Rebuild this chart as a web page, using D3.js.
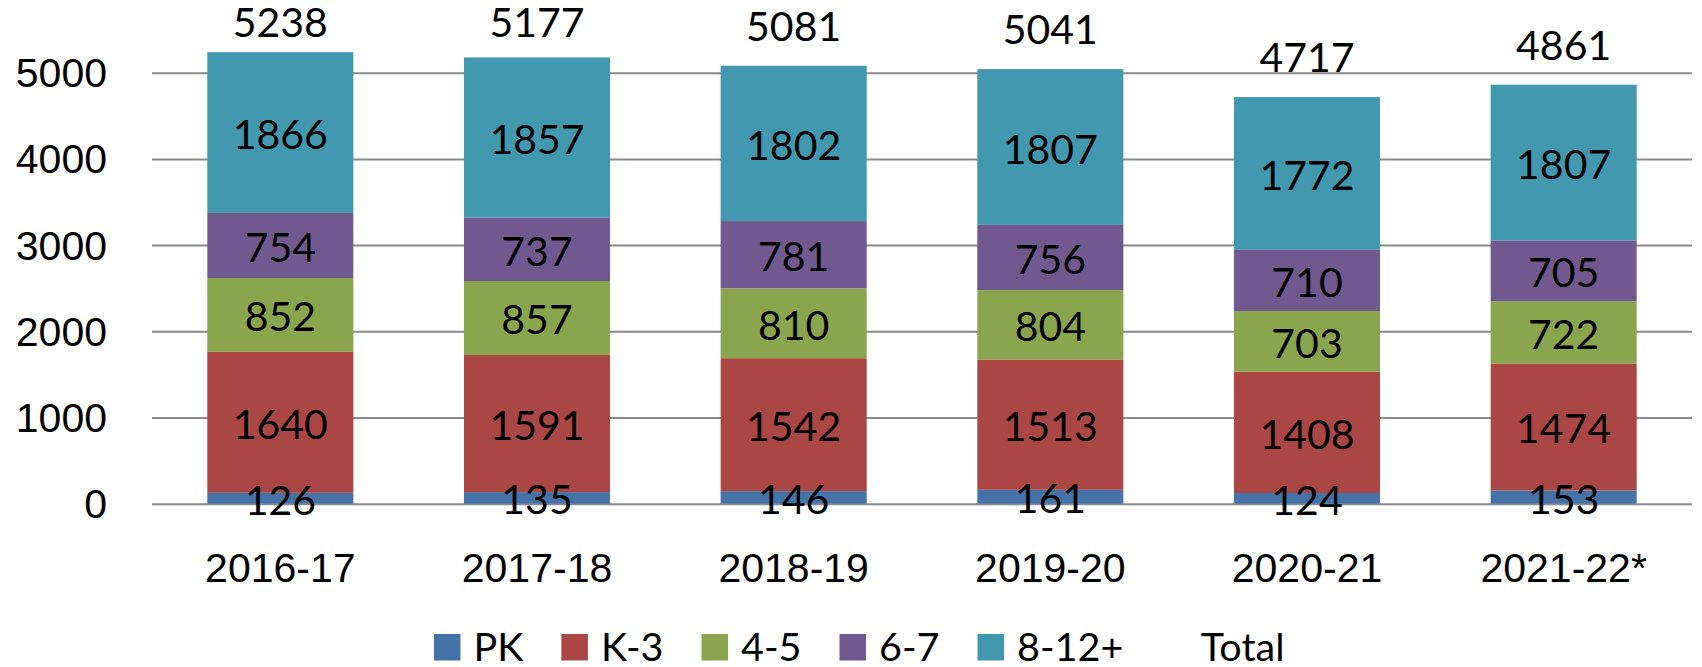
<!DOCTYPE html>
<html>
<head>
<meta charset="utf-8">
<script src="https://cdn.jsdelivr.net/npm/d3@7"></script>
<style>
  html, body { margin: 0; padding: 0; background: #fff; }
  svg { display: block; font-family: Lato, 'Open Sans', sans-serif; }
</style>
</head>
<body>
<div id="chart"></div>
<script>
// school years on the x axis
const years = ['2016-17', '2017-18', '2018-19', '2019-20', '2020-21', '2021-22*'];

// enrolment by grade band
const pk = [126, 135, 146, 161, 124, 153];
const k3 = [1640, 1591, 1542, 1513, 1408, 1474];
const g45 = [852, 857, 810, 804, 703, 722];
const g67 = [754, 737, 781, 756, 710, 705];
const g812 = [1866, 1857, 1802, 1807, 1772, 1807];
const totals = [5238, 5177, 5081, 5041, 4717, 4861];

const seriesNames = ['PK', 'K-3', '4-5', '6-7', '8-12+'];
const seriesColors = ['#4572A7', '#AA4643', '#89A54E', '#71588F', '#4198AF'];
const yTicks = [0, 1000, 2000, 3000, 4000, 5000];

const width = 1702, height = 667;
const plot = { left: 152, right: 1692, top: 72.7, bottom: 503.7 };

const rows = years.map((year, i) => ({
  year: year,
  'PK': pk[i], 'K-3': k3[i], '4-5': g45[i], '6-7': g67[i], '8-12+': g812[i],
  total: totals[i]
}));

const stacked = d3.stack().keys(seriesNames)(rows);

const svg = d3.select('#chart').append('svg')
  .attr('width', width)
  .attr('height', height);

const x = d3.scaleBand()
  .domain(years)
  .range([plot.left, plot.right])
  .paddingInner(0.431)
  .paddingOuter(0.2155);

const y = d3.scaleLinear()
  .domain([0, 5000])
  .range([plot.bottom, plot.top]);

const color = d3.scaleOrdinal().domain(seriesNames).range(seriesColors);

// gridlines + y labels
const yAxis = svg.append('g')
  .attr('transform', `translate(${plot.left},0)`)
  .call(d3.axisLeft(y).tickValues(yTicks).tickSize(-(plot.right - plot.left)).tickPadding(45).tickFormat(d3.format('d')));
yAxis.select('.domain').remove();
yAxis.selectAll('.tick line').attr('stroke', '#8a8a8a').attr('stroke-width', 2);
yAxis.selectAll('.tick text')
  .attr('fill', '#000')
  .style('font-size', '41px')
  .attr('dy', '0.34em');

// stacked bars
const layer = svg.append('g').selectAll('g')
  .data(stacked)
  .enter()
  .append('g')
  .attr('fill', d => color(d.key));

layer.selectAll('rect')
  .data(d => d)
  .enter()
  .append('rect')
  .attr('x', d => x(d.data.year))
  .attr('width', x.bandwidth())
  .attr('y', d => y(d[1]))
  .attr('height', d => y(d[0]) - y(d[1]));

// segment values
const labels = svg.append('g')
  .attr('text-anchor', 'middle')
  .style('font-size', '41px')
  .attr('fill', '#000');

stacked.forEach(s => {
  labels.selectAll(null)
    .data(s)
    .enter()
    .append('text')
    .attr('x', d => x(d.data.year) + x.bandwidth() / 2)
    .attr('y', d => (y(d[0]) + y(d[1])) / 2 + 16.5)
    .text(d => d[1] - d[0]);
});

// totals above the bars, kept inside the chart area
labels.selectAll(null)
  .data(rows)
  .enter()
  .append('text')
  .attr('x', d => x(d.year) + x.bandwidth() / 2)
  .attr('y', d => Math.max(y(d.total) - 25, 37))
  .text(d => d.total);

// x axis labels
const xAxis = svg.append('g')
  .attr('transform', `translate(0,${plot.bottom})`)
  .call(d3.axisBottom(x).tickSize(0).tickPadding(0));
xAxis.select('.domain').remove();
xAxis.selectAll('.tick text')
  .attr('fill', '#000')
  .style('font-size', '41px')
  .attr('dy', null)
  .attr('y', 78);

// legend
const legendItems = seriesNames.concat(['Total']);
const legend = svg.append('g').attr('transform', 'translate(434,634)');
let lx = 0;
legendItems.forEach((name, i) => {
  const item = legend.append('g').attr('transform', `translate(${lx},0)`);
  if (i < seriesNames.length) {
    item.append('rect')
      .attr('width', 26.5)
      .attr('height', 26.5)
      .attr('fill', color(name));
  }
  const t = item.append('text')
    .attr('x', 39.5)
    .attr('y', 26.5)
    .style('font-size', '39.5px')
    .attr('fill', '#000')
    .text(name);
  lx += 39.5 + t.node().getComputedTextLength() + 38;
});
</script>
</body>
</html>
